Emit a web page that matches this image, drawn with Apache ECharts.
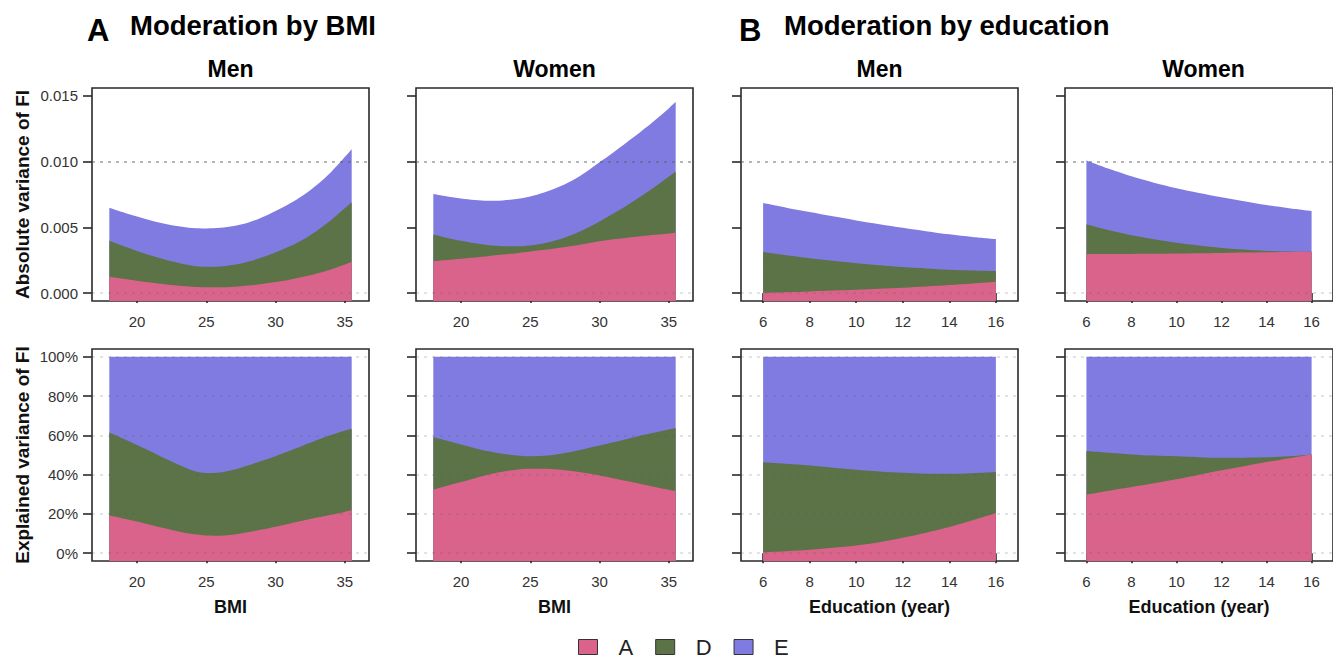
<!DOCTYPE html>
<html><head><meta charset="utf-8">
<script src="https://cdn.jsdelivr.net/npm/echarts@6/dist/echarts.min.js"></script>
<style>html,body{margin:0;padding:0;background:#fff}#c{width:1333px;height:658px}</style>
</head><body><div id="c"></div>
<script>
// ---------------- data ----------------
const bmiX = [18, 19, 20, 21, 22, 23, 24, 25, 26, 27, 28, 29, 30, 31, 32, 33, 34, 35, 35.5];
const eduX = [6, 7, 8, 9, 10, 11, 12, 13, 14, 15, 16];
const bmiTicks = [20, 25, 30, 35];
const eduTicks = [6, 8, 10, 12, 14, 16];
const absTicks = [0, 0.005, 0.010, 0.015];
const relTicks = [0, 20, 40, 60, 80, 100];
const componentNames = ['A', 'D', 'E'];
const colTitles = ['Men', 'Women', 'Men', 'Women'];
const sectionTitles = ['Moderation by BMI', 'Moderation by education'];
const sectionLetters = ['A', 'B'];

// absolute variance values are in units of 0.001 (scaled below)
// BMI, men, absolute variance
const bmiMenAbsA = [1.25, 1.09, 0.94, 0.80, 0.67, 0.56, 0.48, 0.44, 0.44, 0.48, 0.57, 0.69, 0.84, 1.02, 1.24, 1.49, 1.80, 2.17, 2.39];
const bmiMenAbsD = [2.74, 2.50, 2.27, 2.06, 1.88, 1.73, 1.61, 1.57, 1.59, 1.68, 1.82, 2.01, 2.25, 2.52, 2.84, 3.26, 3.74, 4.29, 4.53];
const bmiMenAbsE = [2.51, 2.56, 2.61, 2.67, 2.73, 2.79, 2.86, 2.91, 2.94, 2.94, 2.96, 3.05, 3.16, 3.26, 3.37, 3.50, 3.66, 3.89, 4.03];
// BMI, women, absolute variance
const bmiWomenAbsA = [2.43, 2.52, 2.61, 2.70, 2.82, 2.93, 3.04, 3.16, 3.29, 3.43, 3.58, 3.75, 3.94, 4.09, 4.22, 4.33, 4.43, 4.54, 4.60];
const bmiWomenAbsD = [2.03, 1.68, 1.37, 1.09, 0.82, 0.64, 0.52, 0.47, 0.50, 0.63, 0.84, 1.14, 1.51, 1.96, 2.47, 3.04, 3.66, 4.31, 4.65];
const bmiWomenAbsE = [3.07, 3.15, 3.22, 3.29, 3.38, 3.48, 3.59, 3.72, 3.86, 3.99, 4.13, 4.31, 4.50, 4.65, 4.81, 4.93, 5.06, 5.20, 5.30];
// Education, men, absolute variance
const eduMenAbsA = [0.03, 0.07, 0.13, 0.19, 0.25, 0.33, 0.41, 0.50, 0.61, 0.73, 0.86];
const eduMenAbsD = [3.09, 2.81, 2.53, 2.27, 2.03, 1.79, 1.57, 1.37, 1.17, 0.99, 0.82];
const eduMenAbsE = [3.73, 3.62, 3.51, 3.38, 3.25, 3.12, 2.99, 2.84, 2.69, 2.55, 2.43];
// Education, women, absolute variance
const eduWomenAbsA = [2.96, 2.97, 2.98, 2.99, 3.01, 3.03, 3.06, 3.08, 3.11, 3.13, 3.14];
const eduWomenAbsD = [2.27, 1.81, 1.43, 1.11, 0.82, 0.59, 0.38, 0.23, 0.10, 0.03, 0.00];
const eduWomenAbsE = [4.85, 4.67, 4.47, 4.30, 4.15, 4.00, 3.86, 3.68, 3.49, 3.30, 3.11];

// BMI, men, explained variance (%)
const bmiMenRelA = [19.2, 17.7, 16.1, 14.4, 12.7, 11.0, 9.7, 9.0, 8.9, 9.5, 10.6, 12.0, 13.5, 15.0, 16.6, 18.1, 19.6, 21.0, 21.8];
const bmiMenRelD = [42.2, 40.6, 39.0, 37.4, 35.6, 34.0, 32.4, 31.8, 32.2, 33.0, 34.0, 35.0, 35.9, 37.0, 38.2, 39.5, 40.6, 41.4, 41.4];
const bmiMenRelE = [38.6, 41.7, 44.9, 48.2, 51.7, 55.0, 57.9, 59.2, 58.9, 57.5, 55.4, 53.0, 50.6, 48.0, 45.2, 42.4, 39.8, 37.6, 36.8];
// BMI, women, explained variance (%)
const bmiWomenRelA = [32.3, 34.3, 36.2, 38.2, 40.1, 41.5, 42.5, 43.0, 43.0, 42.6, 41.8, 40.8, 39.6, 38.2, 36.7, 35.2, 33.7, 32.3, 31.6];
const bmiWomenRelD = [26.9, 22.9, 19.1, 15.3, 11.8, 9.1, 7.3, 6.4, 6.6, 7.8, 9.9, 12.4, 15.2, 18.3, 21.5, 24.7, 27.8, 30.7, 32.0];
const bmiWomenRelE = [40.8, 42.8, 44.7, 46.5, 48.1, 49.4, 50.2, 50.6, 50.4, 49.6, 48.3, 46.8, 45.2, 43.5, 41.8, 40.1, 38.5, 37.0, 36.4];
// Education, men, explained variance (%)
const eduMenRelA = [0.5, 1.0, 1.7, 2.7, 3.9, 5.6, 7.8, 10.4, 13.3, 16.7, 20.4];
const eduMenRelD = [45.8, 44.5, 42.9, 40.8, 38.6, 36.0, 33.1, 30.1, 27.1, 24.0, 20.9];
const eduMenRelE = [53.7, 54.5, 55.4, 56.5, 57.5, 58.4, 59.1, 59.5, 59.6, 59.3, 58.7];
// Education, women, explained variance (%)
const eduWomenRelA = [29.8, 31.8, 33.7, 35.6, 37.6, 39.9, 42.2, 44.3, 46.4, 48.4, 50.3];
const eduWomenRelD = [22.2, 19.3, 16.6, 14.1, 11.7, 9.0, 6.4, 4.3, 2.4, 1.0, 0.0];
const eduWomenRelE = [48.0, 48.9, 49.7, 50.3, 50.7, 51.1, 51.4, 51.4, 51.2, 50.6, 49.7];

// ---------------- styling / layout ----------------
const FONT = '"Liberation Sans", Arial, Helvetica, sans-serif';
const COLORS = {A: '#d9638a', D: '#5b7347', E: '#7f7be1'};
const colLeft = [92, 416, 741, 1065];
const colWidth = 277;
const rowTop = [88, 349];
const rowHeight = [213, 212];
const ABS_UNIT = 0.001;

const panels = [
  {row: 0, col: 0, x: bmiX, kind: 'bmi', v: [bmiMenAbsA, bmiMenAbsD, bmiMenAbsE]},
  {row: 0, col: 1, x: bmiX, kind: 'bmi', v: [bmiWomenAbsA, bmiWomenAbsD, bmiWomenAbsE]},
  {row: 0, col: 2, x: eduX, kind: 'edu', v: [eduMenAbsA, eduMenAbsD, eduMenAbsE]},
  {row: 0, col: 3, x: eduX, kind: 'edu', v: [eduWomenAbsA, eduWomenAbsD, eduWomenAbsE]},
  {row: 1, col: 0, x: bmiX, kind: 'bmi', v: [bmiMenRelA, bmiMenRelD, bmiMenRelE]},
  {row: 1, col: 1, x: bmiX, kind: 'bmi', v: [bmiWomenRelA, bmiWomenRelD, bmiWomenRelE]},
  {row: 1, col: 2, x: eduX, kind: 'edu', v: [eduMenRelA, eduMenRelD, eduMenRelE]},
  {row: 1, col: 3, x: eduX, kind: 'edu', v: [eduWomenRelA, eduWomenRelD, eduWomenRelE]}
];

const grid = [], xAxis = [], yAxis = [], series = [];
const axisCol = '#2a2a2a';

panels.forEach((p, i) => {
  grid.push({
    left: colLeft[p.col], top: rowTop[p.row], width: colWidth, height: rowHeight[p.row],
    show: true, borderColor: axisCol, borderWidth: 1.6, backgroundColor: 'transparent'
  });
  const isBmi = p.kind === 'bmi';
  const xt = isBmi ? bmiTicks : eduTicks;
  xAxis.push({
    type: 'value', gridIndex: i,
    min: isBmi ? 16.75 : 5.05, max: isBmi ? 36.75 : 16.95,
    axisLine: {show: false}, splitLine: {show: false},
    axisTick: {show: true, inside: false, length: 10, customValues: xt, lineStyle: {color: axisCol, width: 1.6}},
    axisLabel: {show: true, customValues: xt, margin: 13, fontSize: 15, color: '#333', fontFamily: FONT},
    name: p.row === 1 ? (isBmi ? 'BMI' : 'Education (year)') : '',
    nameLocation: 'middle', nameGap: 37,
    nameTextStyle: {fontSize: 18, fontWeight: 'bold', color: '#111', fontFamily: FONT}
  });
  const isAbs = p.row === 0;
  const yt = isAbs ? absTicks : relTicks;
  yAxis.push({
    type: 'value', gridIndex: i,
    min: isAbs ? -0.0006 : -4, max: isAbs ? 0.0156 : 104,
    axisLine: {show: false}, splitLine: {show: false},
    axisTick: {show: true, inside: false, length: 9, customValues: yt, lineStyle: {color: axisCol, width: 1.6}},
    axisLabel: {
      show: p.col === 0, customValues: yt, margin: 14, fontSize: 15, color: '#333', fontFamily: FONT,
      formatter: v => isAbs ? v.toFixed(3) : Math.round(v) + '%'
    },
    name: p.col === 0 ? (isAbs ? 'Absolute variance of FI' : 'Explained variance of FI') : '',
    nameLocation: 'middle', nameRotate: 90, nameGap: 60,
    nameTextStyle: {fontSize: 19, fontWeight: 'bold', color: '#111', fontFamily: FONT}
  });
  // cumulative boundaries: A, A+D, A+D+E ; drawn top-down so each lower area covers the one above
  const scale = isAbs ? ABS_UNIT : 1;
  const cum = [];
  let run = p.x.map(() => 0);
  p.v.forEach(arr => { run = run.map((r, j) => r + arr[j] * scale); cum.push(run.slice()); });
  [2, 1, 0].forEach(k => {
    const nm = componentNames[k];
    const s = {
      name: nm, type: 'line', xAxisIndex: i, yAxisIndex: i,
      data: p.x.map((xv, j) => [xv, cum[k][j]]),
      smooth: 0.35, showSymbol: false, symbol: 'none',
      lineStyle: {width: 0, color: COLORS[nm]},
      itemStyle: {color: COLORS[nm]},
      areaStyle: {color: COLORS[nm], opacity: 1, origin: 'start'},
      emphasis: {disabled: true}, silent: true
    };
    if (k === 0) {
      s.markLine = {
        silent: true, symbol: ['none', 'none'], animation: false,
        label: {show: false},
        lineStyle: {type: [3, 5], color: 'rgba(90,90,90,0.24)', width: 1.5},
        emphasis: {disabled: true},
        data: yt.map(t => ({yAxis: t}))
      };
    }
    series.push(s);
  });
});

const graphic = [];
const sectionX = [[87, 130], [739, 784]];
sectionLetters.forEach((L, i) => {
  graphic.push({type: 'text', x: sectionX[i][0], y: 30.5,
    style: {text: L, fill: '#000', font: 'bold 31px ' + FONT, textAlign: 'left', textVerticalAlign: 'middle'}});
  graphic.push({type: 'text', x: sectionX[i][1], y: 25.5,
    style: {text: sectionTitles[i], fill: '#000', font: 'bold 27.5px ' + FONT, textAlign: 'left', textVerticalAlign: 'middle'}});
});
colTitles.forEach((t, c) => {
  graphic.push({type: 'text', x: colLeft[c] + colWidth / 2, y: 69,
    style: {text: t, fill: '#000', font: 'bold 23px ' + FONT, textAlign: 'center', textVerticalAlign: 'middle'}});
});

const chart = echarts.init(document.getElementById('c'), null, {renderer: 'svg'});
chart.setOption({
  animation: false,
  backgroundColor: '#fff',
  grid, xAxis, yAxis, series, graphic,
  legend: {
    data: componentNames, left: 578, top: 633, icon: 'rect', padding: 0,
    itemWidth: 19, itemHeight: 15, itemGap: 22,
    itemStyle: {borderColor: '#333', borderWidth: 1},
    textStyle: {fontSize: 22, lineHeight: 28, color: '#222', fontFamily: FONT, padding: [0, 0, 0, 16]},
    selectedMode: false
  }
});
</script></body></html>
